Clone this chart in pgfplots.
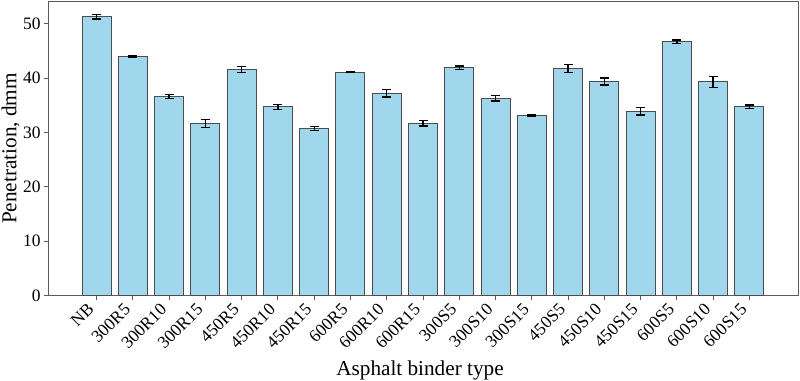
\documentclass[border=0pt]{standalone}
\usepackage{pgfplots}
\pgfplotsset{compat=1.18}
\usepackage{fontspec}
\setmainfont{Liberation Serif}
\definecolor{barfill}{RGB}{161,215,237}
\definecolor{spine}{RGB}{90,90,90}
\begin{document}
\begin{tikzpicture}
\begin{axis}[
  scale only axis,
  width=750bp, height=294bp,
  xmin=-1.34, xmax=19.34,
  ymin=0, ymax=54.1,
  ytick={0,10,20,30,40,50},
  xtick={0,...,18},
  xticklabels={NB,300R5,300R10,300R15,450R5,450R10,450R15,600R5,600R10,600R15,300S5,300S10,300S15,450S5,450S10,450S15,600S5,600S10,600S15},
  xticklabel style={rotate=45, anchor=north east, inner sep=1bp, xshift=-8bp, yshift=6bp},
  tick label style={font=\fontsize{17.5}{20}\selectfont},
  label style={font=\fontsize{21.3}{24}\selectfont},
  /pgf/number format/assume math mode=true,
  xlabel={Asphalt binder type},
  ylabel={Penetration, dmm},
  xlabel style={at={(axis description cs:0.5,0)}, anchor=base, inner sep=0pt, yshift=-79.5bp, xshift=-3bp},
  ylabel style={at={(axis description cs:0,0.5)}, anchor=north, inner sep=0pt, yshift=46.5bp},
  axis line style={spine, line width=1bp},
  tick style={spine, line width=1bp},
  tick align=outside,
  major tick length=4bp,
  xtick pos=bottom, ytick pos=left,
  ybar, bar width=0.8, bar shift=0pt,
]
\addplot[fill=barfill, draw=black!70, line width=1bp,
  error bars/.cd, y dir=both, y explicit,
  error bar style={black, line width=1.3bp},
  error mark options={black, rotate=90, mark size=4.5bp, line width=1.3bp}]
table[x=x, y=y, y error=e] {
x y e
0 51.3 0.40
1 44.0 0.12
2 36.6 0.35
3 31.7 0.75
4 41.6 0.60
5 34.7 0.45
6 30.7 0.35
7 41.1 0.12
8 37.2 0.65
9 31.7 0.50
10 41.9 0.35
11 36.3 0.50
12 33.1 0.10
13 41.8 0.75
14 39.4 0.65
15 33.9 0.70
16 46.7 0.30
17 39.3 1.05
18 34.7 0.35
};
\end{axis}
\pgfresetboundingbox
\path (current axis.south west) ++(-48bp,-85.5bp) rectangle ([shift={(2bp,1.5bp)}]current axis.north east);
\end{tikzpicture}
\end{document}
